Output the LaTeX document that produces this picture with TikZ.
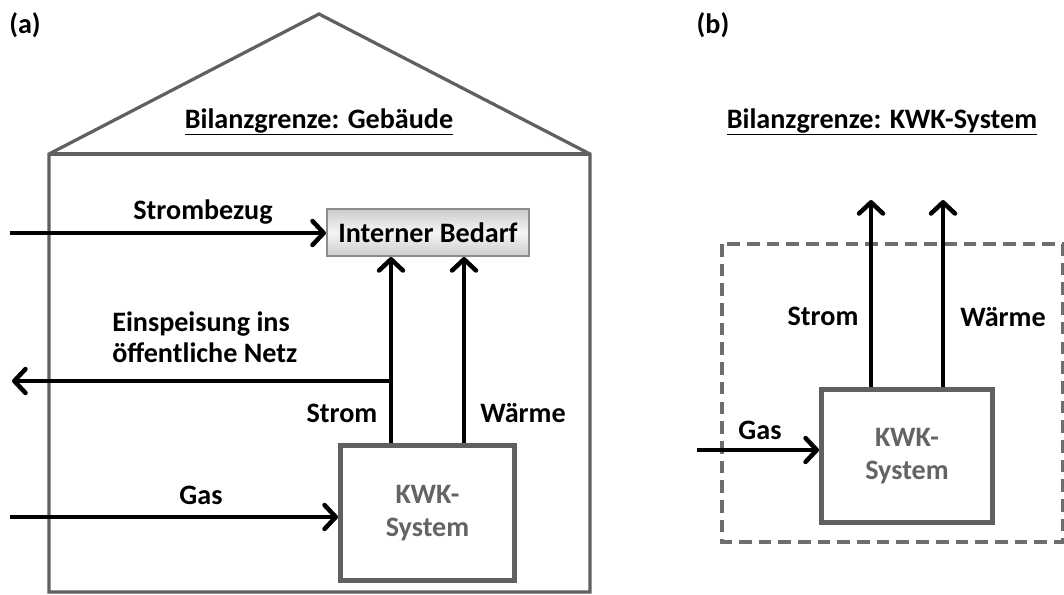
\documentclass[tikz,border=0pt]{standalone}
\usepackage{fontspec}
\setmainfont{Carlito}
\usetikzlibrary{arrows.meta, positioning, calc}
\definecolor{frm}{RGB}{96, 96, 96}
\definecolor{dsh}{RGB}{110, 110, 110}
\definecolor{kwt}{RGB}{100, 100, 100}
\definecolor{bdr}{RGB}{140, 140, 140}

\begin{document}
\begin{tikzpicture}[
    x=0.025cm, y=-0.025cm,
    >={Straight Barb[length=8pt, width=17pt, round]},
    txt/.style={font=\fontsize{20}{22}\selectfont\bfseries, inner sep=0pt},
    kwk/.style={rectangle, draw=frm, line width=3.5pt, fill=white,
      align=center, text=kwt, font=\fontsize{20}{23}\selectfont\bfseries},
    need/.style={rectangle, draw=bdr, line width=1.4pt,
      top color=gray!40, bottom color=gray!40, middle color=gray!8,
      minimum width=5.05cm, minimum height=1.175cm,
      font=\fontsize{20}{22}\selectfont\bfseries},
    arr/.style={->, line width=3.2pt, black},
    wall/.style={draw=frm, line width=2.3pt, line join=miter},
    bnd/.style={draw=dsh, line width=2.3pt, dash pattern=on 9pt off 5pt}
  ]
  \useasboundingbox (0,0) rectangle (1064,594);

  % (a) Gebaeude
  \node[txt, anchor=base] (laba) at (25,33) {(a)};
  \draw[wall] (49,592) -- (49,154) -- (319,14) -- (590,154) -- (590,592) -- cycle;
  \draw[wall] (49,154) -- (590,154);
  \node[txt, anchor=base] (tita) at (319,128) {\underline{Bilanzgrenze: Gebäude}};

  \node[need] (bedarf) at (428,232.5) {Interner Bedarf};
  \node[kwk, minimum width=4.35cm, minimum height=3.375cm] (kwka) at (427.5,513) {KWK-\\System};

  \coordinate (sa) at (391,381);
  \coordinate (wa) at (464,381);
  \coordinate (ein) at (12,381);
  \coordinate (sbz) at (10,233);
  \coordinate (gasa) at (10,517);

  \draw[arr] (kwka.north -| sa) -- (bedarf.south -| sa);
  \draw[arr] (kwka.north -| wa) -- (bedarf.south -| wa);
  \draw[arr] (sa) -- (ein);
  \draw[arr] (sbz) -- (sbz -| bedarf.west);
  \draw[arr] (gasa) -- (gasa -| kwka.west);

  \node[txt, anchor=base] (lsbz) at (203,219) {Strombezug};
  \node[txt, anchor=west, align=left] (lein) at (112,337) {Einspeisung ins\\öffentliche Netz};
  \node[txt, anchor=base] (lstra) at (342,422) {Strom};
  \node[txt, anchor=base] (lwaa) at (523,422) {Wärme};
  \node[txt, anchor=base] (lgasa) at (201,504) {Gas};

  % (b) KWK-System
  \node[txt, anchor=base] (labb) at (713,33) {(b)};
  \node[txt, anchor=base] (titb) at (882,128) {\underline{Bilanzgrenze: KWK-System}};
  \draw[bnd] (722,244) rectangle (1063,542);

  \node[kwk, minimum width=4.275cm, minimum height=3.325cm] (kwkb) at (907,456) {KWK-\\System};

  \coordinate (sb) at (871,200);
  \coordinate (wb) at (943,200);
  \coordinate (gasb) at (697,450);

  \draw[arr] (kwkb.north -| sb) -- (sb);
  \draw[arr] (kwkb.north -| wb) -- (wb);
  \draw[arr] (gasb) -- (gasb -| kwkb.west);

  \node[txt, anchor=base] (lstrb) at (823,325) {Strom};
  \node[txt, anchor=base] (lwab) at (1003,326) {Wärme};
  \node[txt, anchor=base] (lgasb) at (760,439) {Gas};
\end{tikzpicture}
\end{document}
